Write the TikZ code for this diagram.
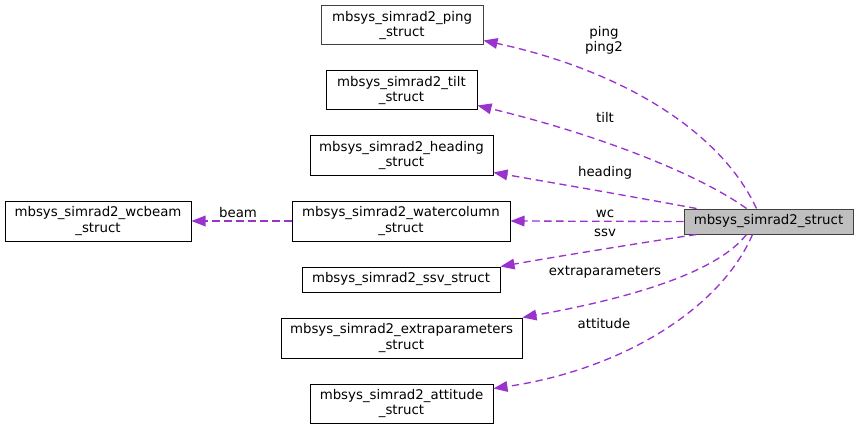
\documentclass[tikz,border=0pt]{standalone}
\usepackage{fontspec}
\setmainfont{DejaVu Sans}
\usetikzlibrary{arrows.meta,calc}
\definecolor{edgec}{HTML}{9A32CD}
\definecolor{mainfill}{HTML}{BFBFBF}
\begin{document}
\begin{tikzpicture}[x=0.75pt,y=-0.75pt,
  every node/.style={font=\fontsize{10pt}{11.3pt}\selectfont},
  box/.style={draw=black, line width=0.75pt, inner sep=0pt, align=center},
  mainbox/.style={box, draw=black!75, fill=mainfill},
  rel/.style={draw=edgec, line width=1pt, dash pattern=on 5.5pt off 3.5pt,
    -{Triangle[length=10.5pt,width=8pt,fill=edgec,sep=0pt]}},
  lbl/.style={inner sep=0pt, align=center, text=black}]
\useasboundingbox (0,0) rectangle (859,431);
% nodes
\node[box, draw=black!75, minimum width=121.5pt, minimum height=29.25pt] (ping) at (402,25.5) {mbsys\_simrad2\_ping\\\_struct};
\node[box, minimum width=113.25pt, minimum height=29.25pt] (tilt) at (401.5,90.5) {mbsys\_simrad2\_tilt\\\_struct};
\node[box, minimum width=137.25pt, minimum height=29.25pt] (heading) at (401.5,155.5) {mbsys\_simrad2\_heading\\\_struct};
\node[box, minimum width=163.5pt, minimum height=30pt] (wc) at (401,221) {mbsys\_simrad2\_watercolumn\\\_struct};
\node[box, minimum width=139.5pt, minimum height=30pt] (wcbeam) at (98,221) {mbsys\_simrad2\_wcbeam\\\_struct};
\node[box, minimum width=148.5pt, minimum height=18.75pt] (ssv) at (401,279.5) {mbsys\_simrad2\_ssv\_struct};
\node[box, minimum width=180.75pt, minimum height=30pt] (extra) at (401.5,338) {mbsys\_simrad2\_extraparameters\\\_struct};
\node[box, minimum width=137.25pt, minimum height=29.25pt] (attitude) at (401.5,403.5) {mbsys\_simrad2\_attitude\\\_struct};
\node[mainbox, minimum width=126.75pt, minimum height=18.75pt] (main) at (768.5,221.5) {mbsys\_simrad2\_struct};
% edges
\draw[rel] ($(main.north west)+(73,0)$) .. controls (720,130) and (620,70) .. ($(ping.south east)+(0,-5)$);
\draw[rel] ($(main.north west)+(63,0)$) .. controls (700,175) and (600,135) .. ($(tilt.south east)+(0,-5)$);
\draw[rel] ($(main.north west)+(13,0)$) .. controls (640,198) and (560,184) .. ($(heading.south east)+(0,-3)$);
\draw[rel] (main.west) -- (wc.east);
\draw[rel] ($(main.south west)+(13,0)$) .. controls (640,243) and (560,256) .. (ssv.north east);
\draw[rel] ($(main.south west)+(63,0)$) .. controls (715,275) and (620,300) .. (extra.north east);
\draw[rel] ($(main.south west)+(69,0)$) .. controls (720,310) and (620,370) .. ($(attitude.north east)+(0,5)$);
\draw[rel] (wc.west) -- (wcbeam.east);
% labels
\node[lbl] (lping) at (604,40) {ping\\ping2};
\node[lbl] (ltilt) at (605,117) {tilt};
\node[lbl] (lheading) at (605,173) {heading};
\node[lbl] (lwc) at (605,214) {wc};
\node[lbl] (lssv) at (605,233) {ssv};
\node[lbl] (lextra) at (605,272) {extraparameters};
\node[lbl] (latt) at (604,324) {attitude};
\node[lbl] (lbeam) at (238,213) {beam};
\end{tikzpicture}
\end{document}
